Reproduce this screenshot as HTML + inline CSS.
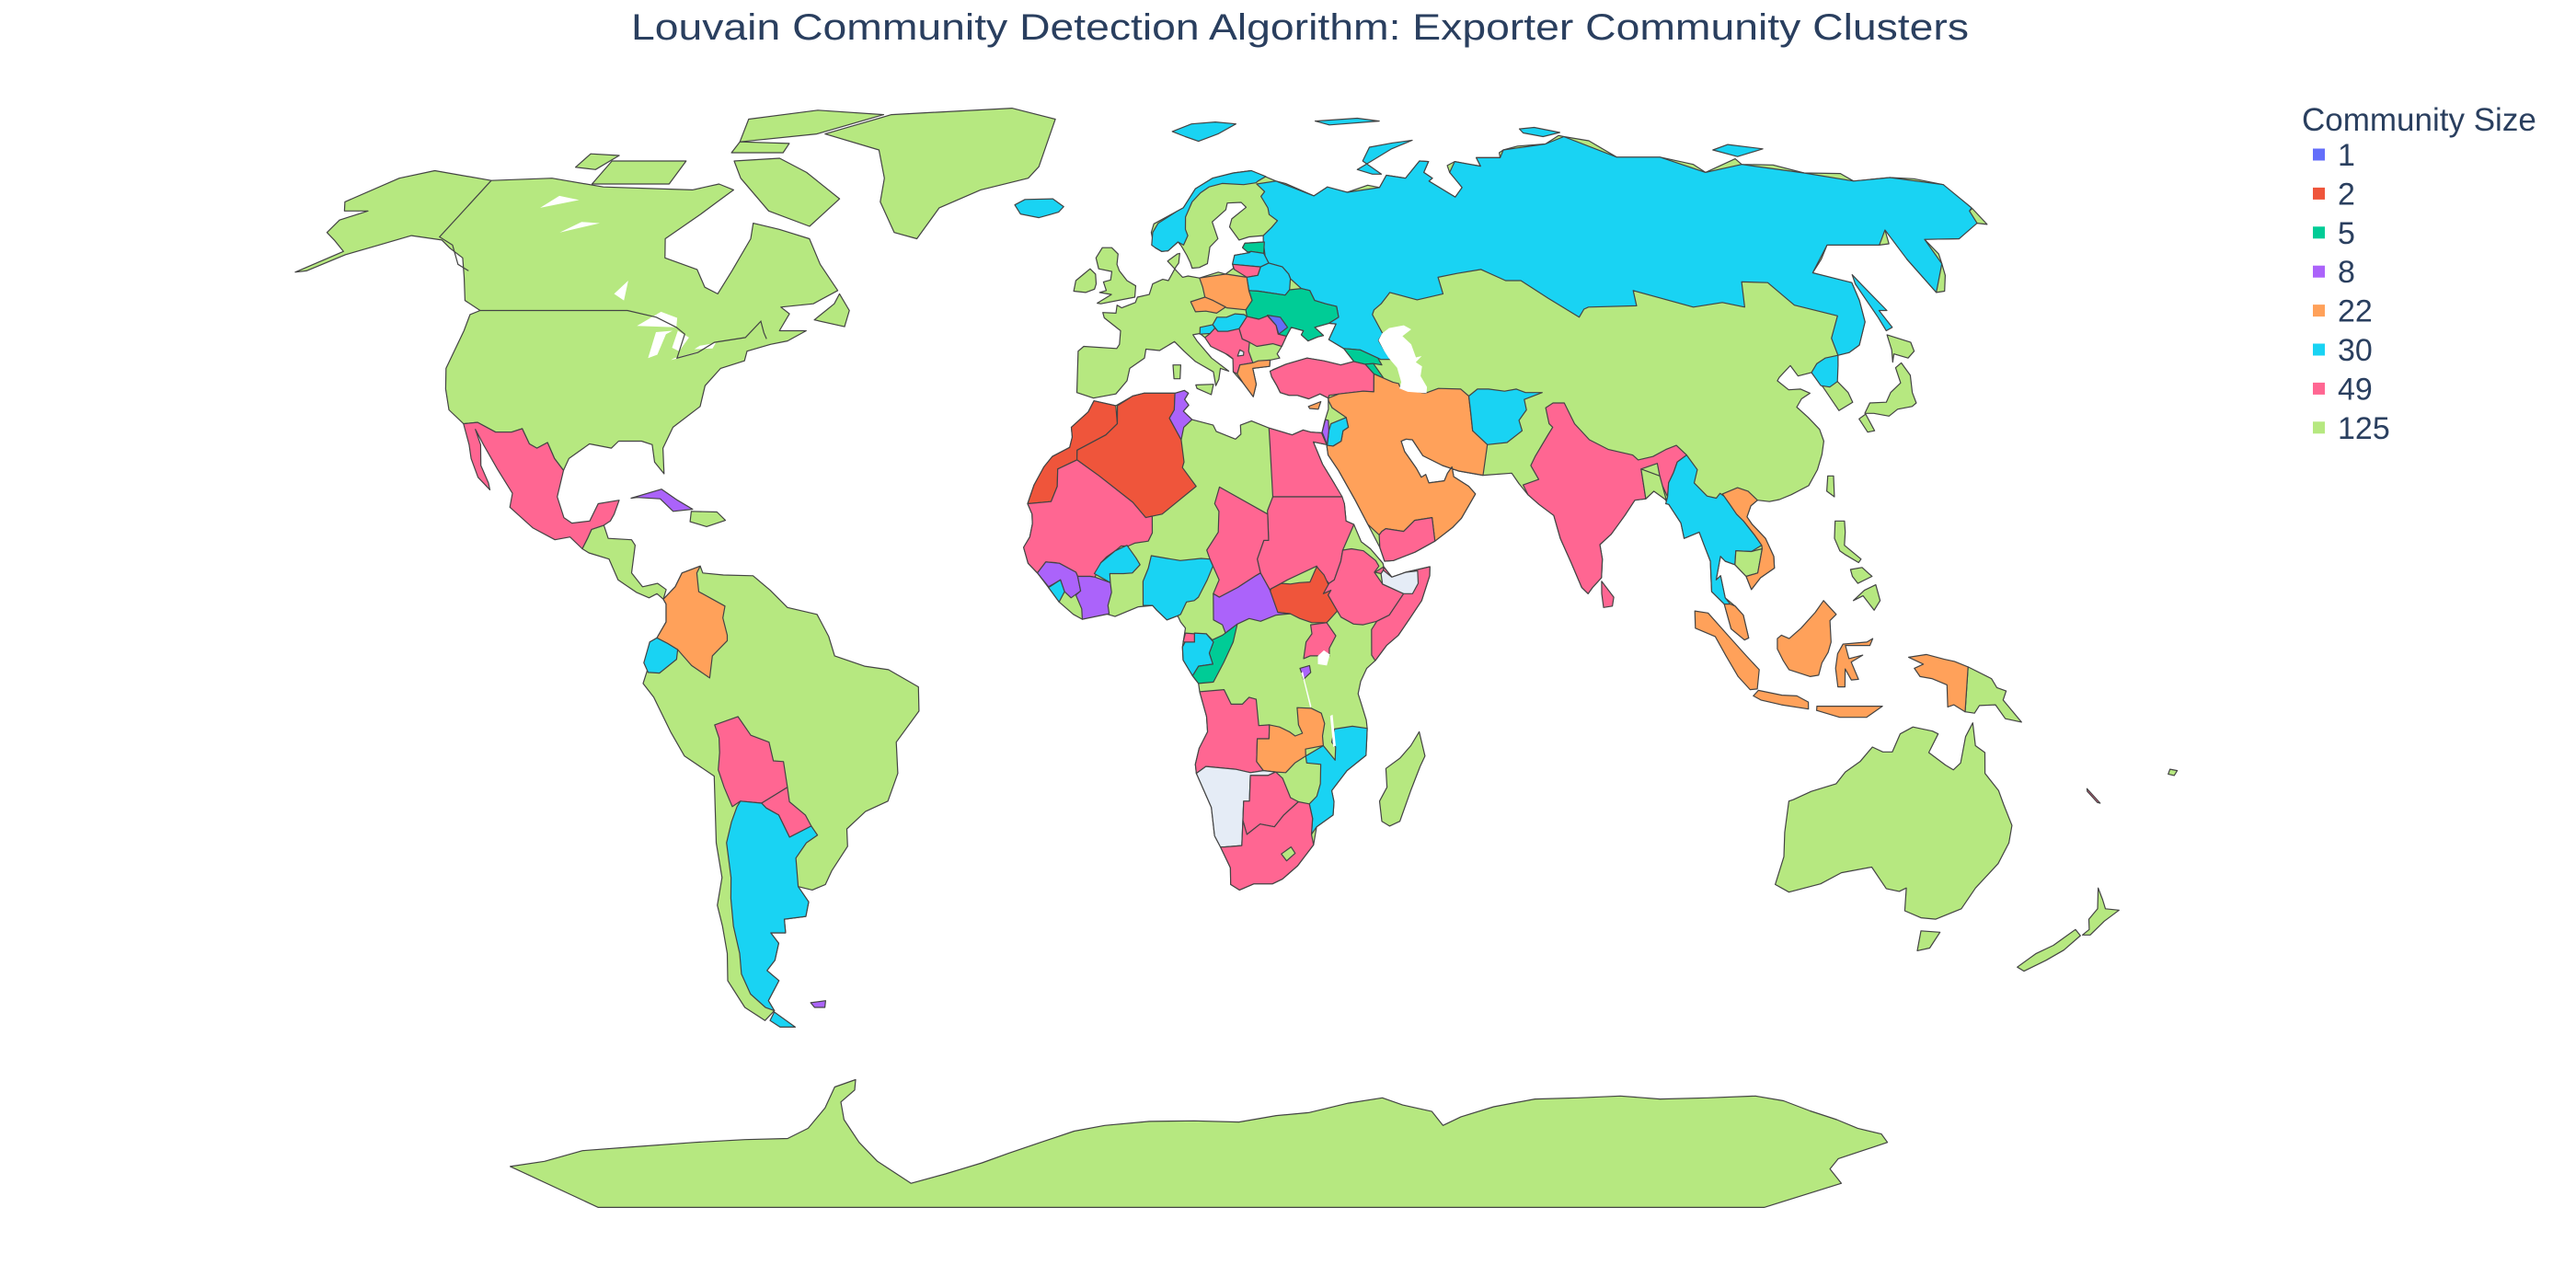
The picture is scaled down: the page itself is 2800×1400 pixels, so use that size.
<!DOCTYPE html>
<html>
<head>
<meta charset="utf-8">
<style>
  html,body{margin:0;padding:0;background:#fff;}
  svg{display:block;}
  text{font-family:"Liberation Sans", sans-serif;fill:#2a3f5f;}
</style>
</head>
<body>
<svg id="chart" width="2800" height="1400" viewBox="0 0 2800 1400" xmlns="http://www.w3.org/2000/svg">
  <rect x="0" y="0" width="2800" height="1400" fill="#ffffff"/>
  <text x="686" y="43" font-size="40" textLength="1454" lengthAdjust="spacingAndGlyphs">Louvain Community Detection Algorithm: Exporter Community Clusters</text>
  <g id="map"></g>
  <g id="legend">
    <text x="2502" y="142" font-size="35">Community Size</text>
  </g>
</svg>
<script>
// ---- data ----
const communitySizes = [1, 2, 5, 8, 22, 30, 49, 125];
const communityColors = ['#636efa', '#EF553B', '#00cc96', '#ab63fa', '#FFA15A', '#19d3f3', '#FF6692', '#B6E880'];
const noDataColor = '#E5ECF6';

// region names, community size (0 = no community) and outline [lon,lat]
const regionNames = [];
const regionCommunity = [];
const regionShapes = [];
function R(name, comm, pts){ regionNames.push(name); regionCommunity.push(comm); regionShapes.push(pts); }

// base land masses (community 125)
R('north-america',125,[[-168,66],[-162,70],[-156,71.3],[-141,69.6],[-128,70],[-115,68.5],[-95,68],[-90,69],[-86,68],[-88,66],[-90,64],[-94.5,60],[-92.5,57],[-85,55.2],[-82,52.5],[-79,51.5],[-78,55],[-77,60],[-78,62.5],[-72,61.5],[-65,60],[-61,56],[-56,52],[-60,50],[-66,49.5],[-64,48.5],[-65,46],[-60,46],[-63,44.5],[-66,44],[-70,43],[-70,41.6],[-74,40.5],[-76,38],[-76,35],[-80,32],[-81,29],[-80,25.3],[-82,27],[-83,29.5],[-85,30],[-89,30],[-90,29],[-94,29.6],[-97,27.5],[-97.5,25.8],[-99.5,27.5],[-101.4,29.8],[-103,29],[-104.5,29.6],[-106.5,31.8],[-108.2,31.3],[-111,31.3],[-114.7,32.7],[-117.1,32.5],[-120.5,34.5],[-122.5,37.5],[-124,40.5],[-124,46],[-124.5,48.4],[-123,49],[-127,50.5],[-130,54],[-133,57],[-137,58.5],[-140,59.8],[-147,60.5],[-152,59],[-157,57.5],[-162,55],[-164,54.8],[-158,58],[-162,59.8],[-165,61],[-165,63],[-161,64.5],[-166,64.5]]);
R('baffin-island',125,[[-80,73.5],[-72,71],[-62,66.5],[-66,62],[-76,64.5],[-86,70],[-90,73]]);
R('victoria-island',125,[[-118,69],[-101,69],[-101,73],[-118,73]]);
R('banks-island',125,[[-125,71.9],[-120,71.5],[-117.5,74],[-124.5,74.3]]);
R('ellesmere-island',125,[[-92,76.5],[-75,78],[-62,82],[-80,83],[-95,81]]);
R('devon-island',125,[[-92,74.5],[-80,74.5],[-80,76.2],[-92,76.5]]);
R('newfoundland',125,[[-59,47.6],[-53,46.6],[-52.8,49],[-55.5,51.5],[-56,50]]);
R('greenland',125,[[-73,78],[-60,82],[-30,83.5],[-18,81],[-20,72],[-22,70],[-32,68],[-40,65],[-43,60],[-48,61],[-53,66],[-54,70],[-58,75]]);
R('central-america',125,[[-92.2,14.5],[-91.5,16],[-91,17.3],[-89,17.9],[-88,16],[-84,15.8],[-83.3,15],[-83.5,11],[-81.5,9],[-79,9.5],[-77.5,8.6],[-77.9,7.2],[-79,8],[-80.3,7.4],[-82.5,8.2],[-85.7,10],[-87.5,13],[-91,13.9]]);
R('hispaniola',125,[[-74.4,19.9],[-70,19.8],[-68.4,18.6],[-71.5,17.7],[-74.4,18.4]]);
R('south-america',125,[[-77.9,7.2],[-76,9],[-75,11],[-72,12],[-71.5,11],[-68,10.7],[-63,10.6],[-60,8.5],[-57,6],[-52,5],[-50,1.8],[-49,-1],[-44,-2.5],[-40,-3],[-35,-5.5],[-35,-9],[-39,-13.5],[-39,-18],[-41,-22],[-45,-23.5],[-48.5,-26],[-48.7,-28.5],[-52,-32],[-53.5,-34],[-56,-34.8],[-58.4,-34.3],[-57,-36.5],[-58,-38.6],[-62,-39],[-62.3,-41],[-65,-41],[-64,-42.5],[-65.5,-45],[-67.5,-46.5],[-65.8,-48],[-69,-51],[-68.5,-52.5],[-71,-54],[-74,-52],[-75.5,-48],[-74,-44],[-73.5,-40],[-73.5,-37],[-71.6,-33],[-71.5,-28],[-70.3,-18.4],[-75,-15.5],[-77,-12],[-79.5,-7],[-81.2,-5],[-80,-2],[-80,1],[-78.8,1.6],[-77.3,3.9],[-77.4,6.5]]);
R('eurasia',125,[[-9,43],[-9,37],[-6,36.2],[-2,36.8],[0,38.7],[0.5,40.5],[3.2,42],[3.5,43.3],[6,43.1],[8.8,44.4],[10.5,43],[12.5,41.5],[15.7,40],[16,38],[16.6,38.9],[17,40.5],[18.5,40.1],[15.5,42],[13,44.5],[12.3,45.4],[13.6,45.6],[14.5,45],[17.5,43],[19.5,41.8],[19.3,40],[21,38.3],[22.6,36.4],[23.3,38.2],[22.9,40.5],[26,40.8],[26.2,41.7],[28,42],[27.6,42.6],[28.6,43.7],[29.7,45.2],[30.8,46.5],[33,46],[32.5,45.4],[33.6,44.5],[35.5,45.1],[36.6,45.3],[35.2,46.5],[38,47.1],[39.3,47],[37.5,44.7],[40,43.4],[41.5,41.5],[39,41],[36,41.6],[33,42],[29,41.1],[26.5,40.3],[26.2,39.3],[27,38],[27.5,37],[29,36.6],[30.5,36.6],[32.5,36.1],[34.6,36.8],[36,36.2],[35.8,34.6],[34.9,32.8],[34.3,31.3],[34.9,29.5],[35,28],[36.6,25.8],[39.1,21.5],[41,18],[42.8,14.7],[43.5,12.7],[45,12.8],[48.7,14],[52.2,15.6],[55.4,17.6],[57,18.9],[59.8,22.4],[58.8,23.5],[56.4,24.9],[56.3,26.3],[55.4,25.4],[54.7,24.3],[52,24],[51.6,25.2],[50.8,24.8],[50.1,26.1],[48.4,28.5],[48,30],[48.9,30.3],[50,30.2],[51.5,27.9],[54.7,26.5],[57.4,25.7],[61.5,25.1],[66.5,25.4],[67.5,23.9],[68.8,22.3],[70.5,20.9],[72.8,19.3],[73.5,16],[74.9,12.7],[76.5,8.9],[77.5,8],[78.3,8.9],[79.9,10.3],[80.3,13],[80.1,15.1],[82.2,16.6],[84.9,19.3],[87,21.5],[88.9,21.7],[90.5,22.8],[91.8,22.2],[92.7,20.9],[94.3,18.2],[94.5,16],[97.2,16.9],[97.7,15.2],[98.5,12.7],[98.3,8.3],[100.3,6.5],[101.3,2.9],[103.5,1.3],[104.2,1.6],[103.4,4.9],[102.1,6.2],[100.5,7.4],[100,10.6],[99.2,10],[100.3,13.4],[101,12.7],[102.6,12.2],[104.3,10.5],[105,8.6],[106.7,10.3],[109.2,11.7],[109.3,13.4],[108.3,16],[106.4,18],[105.7,19.1],[106.7,20.7],[108,21.5],[110,21.3],[111.8,21.6],[114,22.3],[117.3,23.6],[119.5,25.9],[121,28.1],[122,30],[121.9,31.7],[120.6,33.4],[119.2,34.9],[120.6,36.1],[122.5,36.9],[121.1,37.5],[118.9,37.4],[117.5,38.7],[118.1,39.2],[121,40.9],[121.6,39.4],[124.3,39.9],[125.3,37.7],[126.5,34.4],[129.5,35.6],[129.4,37],[128.3,38.6],[127.4,39.8],[129.7,40.9],[130.6,42.4],[132.9,42.8],[135.5,43.9],[139,47.3],[140.5,50.5],[141.4,53.2],[137.2,54],[135.1,54.7],[138.8,56.8],[142.2,59],[145.5,59.3],[149,59.6],[152.8,59],[155,59.2],[156.8,61.4],[160.1,61.8],[159.3,59.9],[156.7,57.4],[155.9,56.8],[156.4,51.7],[158.2,51.9],[160.8,54.3],[162.1,56.1],[163.2,57.6],[163.1,59.9],[170.3,60],[174.6,61.8],[177.4,62.5],[179.2,62.3],[179.9,64.9],[178.7,64.5],[176.9,65.4],[178.7,66.1],[179.9,68.9],[175,69.9],[170,70.1],[161,69.5],[160,70.8],[152,70.9],[147,72.3],[140,72.4],[139.9,73.4],[130,71],[129,72.4],[123,73.7],[113,73.7],[110,76.7],[105,77.5],[104,77.7],[99,76.1],[92,75.7],[88,75],[86.6,74.5],[86,73.6],[80.5,73.6],[80.3,72.1],[78,72.4],[75,72.9],[72.8,72.2],[72.5,71],[73,69.9],[73.5,68.4],[71,66.8],[68.5,68.1],[66.9,69.5],[68,70],[66.7,71],[69,72.9],[67,73],[62,70],[58,70.5],[55.4,68.4],[53,68.8],[48,67.6],[44,66.8],[44,68.5],[40.5,67],[35,69.1],[33,69.5],[28,71.3],[23.9,70.9],[19,70],[15,68.2],[12,65],[10.5,64.4],[5.6,62.4],[5,61],[5.3,59.7],[5.7,58.6],[7,58],[8.3,58.1],[10.4,59.5],[11,58.9],[12,57.4],[12.6,56.3],[12.9,55.4],[14.3,55.5],[16,56.1],[16.5,57.7],[16.8,58.7],[18.6,60],[17.8,62.7],[21,64.7],[21.5,65.8],[24.5,65.9],[25.4,65.1],[22,63.2],[21.3,61.9],[22.9,59.8],[25,60.3],[28,60.5],[29.1,60],[28,59.5],[24,59.3],[23.4,58.6],[24.6,57.8],[21.6,57.4],[21,56],[21.1,55.4],[19.4,54.5],[18,54.8],[14.2,53.9],[12,54.2],[10.9,54],[9.9,54.9],[8.1,56.5],[10.1,57.6],[10.6,57.7],[10.3,56.2],[9.6,55.5],[8.1,53.5],[7,53.7],[5,53],[4.3,51.4],[2,51],[1.6,50.2],[-1,49.4],[-1.9,49.8],[-2.1,48.6],[-4.6,48.7],[-4.3,47.9],[-1.2,46],[-1.4,44],[-1.9,43.4],[-8,43.7]]);
R('great-britain',125,[[-5,50],[1.5,51],[1.7,52.7],[0,53.5],[-1.5,55],[-2,56],[-1.8,57.6],[-3.1,58.6],[-5,58.6],[-6.2,57],[-5.6,55.3],[-3,54.9],[-3.2,53.6],[-4.6,53.3],[-4,52],[-5.3,51.7],[-3,51.4],[-5.7,50.1]]);
R('ireland',125,[[-6,53],[-6.2,54.5],[-7.3,55.3],[-8.5,54.5],[-10,53.5],[-10.3,51.9],[-8,51.7],[-6.3,52.2]]);
R('sardinia',125,[[8.4,41],[9.8,41],[9.6,39],[8.5,39]]);
R('sicily',125,[[12.4,38.1],[15.6,38.2],[15.1,36.7],[12.6,37.6]]);
R('africa',125,[[-5.9,35.8],[-2,35.1],[1,36.5],[3,36.9],[8.6,36.9],[10.3,37.3],[11,36.9],[10.3,36],[11,35.2],[10,34.3],[11.5,33.1],[15.2,32.3],[15.7,31.4],[19,30.3],[20,31],[20,32.3],[22,32.9],[25,31.9],[29,30.9],[31,31.6],[32.3,31.3],[34.2,31.2],[34.9,29.5],[32.6,29.9],[33.9,26.7],[35.7,23.9],[37.2,21],[37.3,18.5],[38.6,18],[39.7,15.5],[41.2,14.5],[43.2,12.4],[43.3,11.9],[44.6,10.4],[47,11.1],[51.1,11.9],[51,10.6],[49.5,7],[47.5,4.5],[45.5,2],[43.5,0.5],[41.6,-1.7],[40.2,-2.8],[39.2,-4.7],[38.8,-6.5],[39.4,-8],[40.3,-10.3],[40.5,-11.5],[40.5,-15.4],[37.4,-17.6],[35,-20.5],[35.5,-22.1],[35.5,-24],[32.8,-25.7],[32.5,-28.3],[30,-31.3],[27.5,-33.2],[25.8,-33.9],[22.5,-33.9],[20,-34.8],[18.4,-34],[18.2,-31.6],[16.3,-28.6],[15.2,-27],[14.5,-22.9],[11.8,-18],[11.6,-16.7],[12.2,-14.4],[13.6,-12],[13.4,-9.8],[12.2,-6.2],[12,-5],[11,-3.9],[9.4,-1.6],[9.3,0.3],[9.8,3],[9,3.9],[8.5,4.8],[6.7,4.2],[5,5.6],[4.3,6.3],[1.9,6.1],[-2,4.7],[-4,5.2],[-7.5,4.3],[-9,5],[-11.4,6.8],[-13.2,8.9],[-15.1,11],[-16.7,12.4],[-17.5,14.7],[-16.5,16.2],[-16.1,18.1],[-16.2,19.5],[-17,21],[-16,23.7],[-14.4,26.3],[-13,27.8],[-10,29.1],[-9.6,30.6],[-9.8,32],[-6.9,34.2]]);
R('madagascar',125,[[49.3,-12],[50.5,-15.5],[49.8,-17],[48.5,-20.5],[47.1,-24.9],[45.4,-25.6],[44,-24.9],[43.3,-22],[44.4,-20],[44,-17.3],[46.3,-15.8],[48,-14]]);
R('luzon',125,[[120.6,18.5],[122.2,18.5],[122,16.9],[121.5,15],[124,13],[123.5,12.5],[121.5,13.6],[120.6,14.2],[120,16]]);
R('visayas',125,[[122,11.5],[124,11.8],[125.5,10.5],[123,9.5],[122.2,10.5]]);
R('mindanao',125,[[122,7],[124,8.5],[126,9.3],[126.5,7],[125.4,5.6],[123.7,7.7]]);
R('taiwan',125,[[121,25],[122,25],[121.3,22],[120.2,22.8]]);
R('honshu',125,[[130.9,34],[132.5,35.5],[135.5,35.6],[137,37],[139.6,38.4],[140,40.6],[141.5,41.3],[142,39.5],[140.9,37],[140.8,35.5],[139.8,35],[137,34.6],[135,33.6],[132.5,34]]);
R('kyushu',125,[[129.5,33.2],[131,33.9],[131.5,31.5],[130.2,31.3]]);
R('hokkaido',125,[[140,41.4],[141,43.2],[141.7,45.4],[145.3,44.3],[145,43],[143.2,42],[141,42.6]]);
R('papua-new-guinea',125,[[141,-2.6],[145,-4.3],[146,-5.6],[147.6,-6.1],[147.2,-7.4],[150.7,-10.6],[147.9,-10.1],[146,-8.1],[143.3,-8.2],[142.6,-9.3],[141,-9.1]]);
R('australia',125,[[113.5,-22],[114,-26.5],[115,-30],[115,-34],[117.9,-35.1],[123,-33.9],[126,-32.3],[131,-31.5],[135,-34.6],[137.5,-35],[138.5,-34.5],[140,-37.8],[143.5,-38.8],[146.3,-39],[150,-37.5],[150.8,-34.5],[153,-31],[153.5,-28],[153,-25.5],[150.5,-22.5],[149,-20.5],[146,-18],[145.3,-15],[143.5,-14],[142.5,-10.7],[141.6,-12.7],[141.5,-16.5],[140.5,-17.5],[139,-16.8],[135.8,-15],[136.9,-12.3],[135.9,-11.9],[132.5,-11.3],[130.5,-12.3],[129.6,-14.9],[128,-14.9],[126.1,-14.2],[124.4,-16.3],[122.2,-17.8],[121,-19.5],[117,-20.6],[114.2,-21.8]]);
R('tasmania',125,[[144.7,-40.7],[148.3,-40.9],[148,-43.2],[146,-43.6]]);
R('nz-north',125,[[172.6,-34.5],[174.5,-36.2],[175.9,-37.5],[178.5,-37.7],[177,-39.3],[176,-41.3],[174.6,-41.3],[175.2,-40.5],[174,-39],[174.5,-37.5]]);
R('nz-south',125,[[172.7,-40.5],[174.3,-41.4],[173,-43.5],[171,-45],[168.3,-46.6],[166.5,-46],[168.3,-44],[170.5,-42.8]]);
R('fiji',125,[[177.3,-17.4],[178.6,-17.6],[178.3,-18.3],[177.2,-18.1]]);
R('antarctica',125,[[-161,-90],[-150,-78.5],[-140,-77.5],[-128,-75.5],[-115,-74.8],[-100,-74],[-88,-73.5],[-78,-73.3],[-72,-71.5],[-66,-68],[-62,-64.5],[-57,-63.3],[-58,-65],[-62,-67],[-63,-70],[-62,-74],[-60,-77.5],[-55,-82],[-45,-80],[-35,-77.8],[-28,-76],[-20,-74],[-12,-72],[-5,-71],[5,-70.3],[15,-70.2],[25,-70.4],[33,-69.3],[40,-68.8],[48,-67.2],[55,-66.3],[60,-67.5],[67,-68.6],[71,-71],[74,-69.5],[80,-67.8],[88,-66.5],[97,-66.3],[106,-66],[115,-66.5],[125,-66.3],[135,-66],[142,-66.8],[150,-68.5],[158,-70],[165,-71.5],[172,-72.5],[176,-74],[170,-77],[172,-79],[182,-82],[194,-90]]);

// coloured community overlays
R('mexico',49,[[-117.1,32.5],[-114.7,32.7],[-111,31.3],[-108.2,31.3],[-106.5,31.8],[-104.5,29.6],[-103,29],[-101.4,29.8],[-99.5,27.5],[-97.5,25.8],[-97.7,22],[-96,19],[-94.5,18.2],[-91.5,18.5],[-90.5,21],[-87,21.5],[-87.5,19.5],[-88,18.5],[-89,17.9],[-91,17.3],[-91.5,16],[-92.2,14.5],[-94.5,16.2],[-97,15.8],[-101,17.5],[-105.5,20.5],[-105.5,22.5],[-109,26],[-112.5,29.5],[-114.7,31.7],[-113,29.5],[-112,26.5],[-110,24],[-109.5,23],[-112,24.8],[-114,27.5],[-115,29.5]]);
R('cuba',8,[[-85,21.8],[-80,23.1],[-77,21.5],[-74.2,20.2],[-77.5,19.9],[-80,21.7],[-84,21.9]]);
R('colombia',22,[[-77.9,7.2],[-76,9],[-75,11],[-72,12],[-72.5,11],[-72,8.3],[-67.5,6.2],[-67.8,4.5],[-67,2],[-67,1.2],[-69.5,-1],[-70,-4.2],[-73,-2.4],[-75.3,-0.1],[-77,0.8],[-78.8,1.6],[-77.3,3.9],[-77.4,6.5]]);
R('ecuador',30,[[-78.8,1.6],[-77,0.8],[-75.3,-0.1],[-75.5,-1.5],[-78.4,-3.5],[-80.3,-3.4],[-81,-2],[-80,1]]);
R('bolivia',49,[[-69.5,-11],[-65.5,-9.8],[-63.5,-12.5],[-60.5,-13.5],[-60,-16.2],[-58.3,-16.3],[-58,-20],[-62.7,-22.3],[-66.3,-22],[-67.8,-22.8],[-68.8,-20],[-69.5,-17.5],[-69,-15],[-68.9,-12.9]]);
R('paraguay',49,[[-62.7,-22.3],[-58,-20],[-57.9,-22.1],[-55.4,-24],[-54.6,-25.6],[-58.6,-27.2],[-60,-24],[-62,-23]]);
R('argentina',30,[[-66.3,-22],[-62.7,-22.3],[-62,-23],[-60,-24],[-58.6,-27.2],[-54.6,-25.6],[-53.7,-26.9],[-55.8,-28],[-58,-30.2],[-58.4,-34.3],[-57,-36.5],[-58,-38.6],[-62,-39],[-62.3,-41],[-65,-41],[-64,-42.5],[-65.5,-45],[-67.5,-46.5],[-65.8,-48],[-69,-51],[-68.5,-52.5],[-70,-52],[-72,-50],[-72.5,-47],[-71.7,-44],[-71.5,-40],[-70.8,-36],[-70,-33],[-69.7,-28],[-68.3,-25],[-67,-22.8]]);
R('tierra-del-fuego',30,[[-68.6,-52.7],[-65.5,-55],[-68.5,-55],[-70,-54]]);
R('falklands',8,[[-61,-51.3],[-58,-51],[-58.5,-52],[-60.5,-52]]);
R('iceland',30,[[-22.5,64],[-24,65.5],[-22,66.4],[-16,66.5],[-13.5,65.2],[-14.5,64.3],[-18.5,63.4]]);
R('svalbard',30,[[11,78.5],[16,80],[22,80.4],[27,80],[22,78],[17,76.6],[14,77.5]]);
R('norway',30,[[5,59],[5.3,61],[6.5,62.5],[10.5,64.4],[12,65],[15,68.2],[19,70],[23.9,70.9],[28,71.3],[31,70.3],[29,69.5],[28.5,69.2],[25.7,68.9],[21,69.1],[18,68.5],[16,67.5],[14,66],[12.3,63.5],[12.1,61.5],[12.5,60.5],[11.5,59],[10.4,59.5],[8.3,58.1],[7,58],[5.7,58.6]]);
R('russia',30,[[28.6,69],[33,69.5],[40.5,67],[44,68.5],[48,67.6],[55.4,68.4],[58,70.5],[62,70],[67,73],[69,72.9],[66.7,71],[68,70],[66.9,69.5],[71,66.8],[73.5,68.4],[72.5,71],[75,72.9],[80.3,72.1],[80.5,73.6],[86,73.6],[88,75],[99,76.1],[105,77.5],[113,73.7],[123,73.7],[130,71],[140,72.4],[152,70.9],[161,69.5],[170,70.1],[179.9,68.9],[179.9,65],[178.7,64.5],[177.4,62.5],[170.3,60],[163.1,59.9],[162.1,56.1],[156.4,51.7],[155.9,56.8],[156.8,61.4],[152.8,59],[142.2,59],[135.1,54.7],[141.4,53.2],[140.5,50.5],[139,47.3],[135.5,43.9],[132.9,42.8],[130.6,42.4],[131,44.9],[134.5,48.2],[127.5,49.8],[125,53.2],[120,53.3],[117.8,49.5],[114,50.2],[108,49.5],[98,52],[97.3,49.7],[88,49.5],[87,49.2],[85.5,48],[81,50.8],[77,53.5],[74,53.5],[70,55.2],[65,54.6],[61,54],[61,51.5],[55.7,50.6],[50.8,51.7],[48.6,50],[47,49.1],[46.5,48.4],[47.7,45.6],[46.7,44.6],[47.5,43],[48.5,41.8],[46.5,41.8],[43,43.2],[40,43.4],[37.5,44.7],[39.3,47],[38,47.1],[40,48],[40,49.6],[38,50],[36,50.5],[35.4,52],[33.8,52.3],[32,53.8],[31.8,54.5],[30.8,55.6],[28.2,56.2],[27.7,57.3],[27.8,59.5],[28,60.5],[30,61.8],[31.5,62.9],[30,63.9],[30,65],[29,66.9],[30,67.7]]);
R('novaya-zemlya',30,[[52,71.5],[55,70.7],[57,70.7],[54,73],[57,75.5],[63,76.3],[68,76.8],[62,75.2],[55.5,72.8]]);
R('severnaya-zemlya',30,[[96,79],[100,79.3],[105,78.3],[100,77.5],[96,78.2]]);
R('new-siberian-islands',30,[[137,75],[142,76],[149,75.2],[141,73.8]]);
R('franz-josef-land',30,[[47,80.6],[58,81.2],[63,80.6],[50,79.8]]);
R('sakhalin',30,[[142,46],[143.5,46.5],[143,49],[144.5,49],[143,53],[142.6,54.4],[141.9,53],[142,48]]);
R('estonia',5,[[23.4,58.6],[24,59.3],[28,59.5],[27.5,57.7],[25,58],[24.3,57.9]]);
R('latvia',30,[[21,56.1],[21.6,57.4],[24.6,57.8],[25,58],[27.5,57.7],[28.2,56.2],[26.5,55.6],[21,56]]);
R('lithuania',49,[[21,56],[26.5,55.6],[25.7,54.3],[23.5,54],[21.2,55.2]]);
R('belarus',30,[[23.5,54],[25.7,54.3],[26.5,55.6],[28.2,56.2],[30.8,55.6],[31.8,54.5],[32,53.8],[31.5,52.1],[30.5,51.3],[25.5,51.9],[23.6,52],[23.5,53.5]]);
R('poland',22,[[14.2,53.9],[19.4,54.5],[23.5,54],[23.6,52],[24,50.5],[22.7,49.1],[19,49.4],[18.8,49.5],[16.5,50.5],[15,51],[14.7,52.5]]);
R('czechia',22,[[12.2,50.3],[15,51],[16.5,50.5],[18.8,49.5],[17,48.6],[15,48.9],[13,48.8]]);
R('ukraine',5,[[23.6,52],[25.5,51.9],[30.5,51.3],[31.5,52.1],[33.8,52.3],[35.4,52],[36,50.5],[38,50],[40,49.6],[40,48],[38,47.1],[35.2,46.5],[36.6,45.3],[35.5,45.1],[33.6,44.5],[32.5,45.4],[33,46],[30.8,46.5],[29.7,45.2],[28.2,45.5],[28.2,47.9],[26.6,48.2],[24.9,47.7],[22.7,48.1],[22.6,49.1],[24,50.5]]);
R('moldova',1,[[26.6,48.3],[29,48],[30.1,46.5],[28.3,45.5],[28,46.8]]);
R('hungary',30,[[16.1,46.9],[17,48],[18.8,48],[20.5,48.5],[22.2,48.4],[22.7,48.1],[21,46.3],[18.8,45.9],[17,45.9]]);
R('slovenia',30,[[13.6,45.5],[13.7,46.5],[16.1,46.9],[16.5,46.4],[15.5,45.6]]);
R('romania',49,[[22.7,48.1],[24.9,47.7],[26.6,48.2],[28,46.8],[28.2,45.5],[29.7,45.2],[28.6,43.7],[27,44.1],[24,43.7],[22.7,44.3],[21.4,44.8],[21,46.3]]);
R('western-balkans',49,[[15.5,45.6],[16.5,46.4],[17,45.9],[18.8,45.9],[21,46.3],[21.4,44.8],[22.7,44.3],[22.4,43],[23,41.3],[20.6,41],[20,39.7],[19.3,40],[19.4,41.9],[18.5,42.5],[15.5,43.7],[14.5,45]]);
R('kosovo',0,[[20.3,42.3],[21.4,42.4],[21.5,42.9],[20.8,43.2]]);
R('greece',22,[[20,39.7],[21,38.3],[22.6,36.4],[23.3,38.2],[22.9,40.5],[26,40.8],[26.2,41.7],[24,41.6],[23,41.3],[20.6,41]]);
R('cyprus',22,[[32.3,35],[34.6,35.7],[34,34.6],[32.5,34.7]]);
R('turkey',49,[[26,40.1],[29,41.1],[33,42],[36,41.6],[39,41],[41.5,41.5],[43.5,41.1],[44.8,39.7],[44.3,37.1],[42.4,37.2],[38,36.8],[36.2,36.6],[36,36.2],[34.6,36.8],[32.5,36.1],[30.5,36.6],[29,36.6],[27.5,37],[27,38],[26.2,39.3]]);
R('georgia',5,[[40,43.4],[43,43.2],[46,42],[46.5,41],[45,41.2],[43.5,41.1],[41.5,41.5]]);
R('armenia',5,[[43.5,41.1],[45,41.2],[46.5,39],[44.8,39.7]]);
R('middle-east-block',22,[[36,36.2],[38,36.8],[42.4,37.2],[44.3,37.1],[44.8,39.7],[48,38.5],[49,38.3],[49.2,37.6],[53.5,36.9],[56,37.6],[60,37.5],[61.2,36.5],[61,34],[60.8,31.5],[61.7,31.4],[63,29.5],[61.5,25.1],[57.4,25.7],[54.7,26.5],[51.5,27.9],[50,30.2],[48.9,30.3],[48,30],[48.4,28.5],[50.1,26.1],[50.8,24.8],[51.6,25.2],[52,24],[54.7,24.3],[55.4,25.4],[56.3,26.3],[56.4,24.9],[58.8,23.5],[59.8,22.4],[57,18.9],[55.4,17.6],[52.2,15.6],[52,19],[49,18.6],[47,17],[44,17.4],[43.3,17],[42.8,16.5],[41,18],[39.1,21.5],[36.6,25.8],[35,28],[34.9,29.5],[36,29.3],[37.5,30],[38,31.5],[39,32],[38.8,33.4],[36.5,34.8],[36,35.8]]);
R('jordan',30,[[35,29.4],[36,29.3],[37.5,30],[38,31.5],[39,32],[38.8,33.4],[36,32.5],[35.5,31.5]]);
R('israel',8,[[34.3,31.3],[35.1,33.1],[35.6,33],[35.5,31.5],[35,29.5]]);
R('yemen',49,[[42.8,16.5],[43.3,17],[44,17.4],[47,17],[49,18.6],[52,19],[52.2,15.6],[48.7,14],[45,12.8],[43.5,12.7],[42.8,14.7]]);
R('afghanistan',30,[[61,34],[61.2,36.5],[63,37.5],[65,37.5],[67.8,37.2],[70,37.5],[71.5,37],[74.5,37],[71,36],[71,34.5],[69.3,33],[69.5,31.5],[66.5,29.8],[63,29.5],[60.8,31.5]]);
R('india',49,[[68.8,22.3],[70.5,20.9],[72.8,19.3],[73.5,16],[74.9,12.7],[76.5,8.9],[77.5,8],[78.3,8.9],[79.9,10.3],[80.3,13],[80.1,15.1],[82.2,16.6],[84.9,19.3],[87,21.5],[88.9,21.7],[89,26],[92,26.8],[92,24],[92.7,22],[93.3,24],[94.5,25.5],[95.5,27],[97.4,28],[96,29.4],[94,28.8],[91.5,27.8],[88.8,27.3],[88,28],[84,28.8],[81,30.2],[79,32.5],[78,35.5],[76,35.5],[74.5,34.8],[74.5,32.5],[75,32],[74,31],[71,27.8],[70,26.5],[71,24.5],[68.2,23.7]]);
R('bangladesh',125,[[88.9,21.7],[89,26],[92,25],[92.4,21.5],[90.5,22.8]]);
R('sri-lanka',49,[[79.9,9.8],[81.8,7.5],[81.5,6.2],[80,6],[79.8,8]]);
R('mainland-sea-block',30,[[92.2,21],[92.7,22],[93.3,24],[94.5,25.5],[95.5,27],[97.4,28],[98.7,25.9],[97.7,24],[99.5,22.1],[101,21.8],[101.8,22.5],[104.3,20.8],[105,18.5],[106.5,16.5],[107.5,15],[105.6,14.1],[103,14.2],[102.6,12.2],[101,12.7],[100.3,13.4],[99.2,10],[100,10.6],[100.5,7.4],[101.3,6.5],[100.3,6.5],[98.3,8.3],[98.5,12.7],[97.7,15.2],[97.2,16.9],[94.5,16],[94.3,18.2],[92.7,20.9]]);
R('cambodia',125,[[102.6,12.2],[103,14.2],[105.6,14.1],[107.5,14.5],[106.3,11],[104.3,10.5]]);
R('vietnam',22,[[102.2,22.4],[105,23.3],[106.7,22.8],[108,21.5],[106.7,20.7],[105.7,19.1],[106.4,18],[108.3,16],[109.3,13.4],[109.2,11.7],[106.7,10.3],[105,8.6],[104.3,10.5],[106.3,11],[107.5,14.5],[107.5,15],[106.5,16.5],[105,18.5],[104,19.5],[103.2,20.8]]);
R('malaysia-peninsula',22,[[100.3,6.5],[101.3,6.5],[102.1,6.2],[103.4,4.9],[104.2,1.6],[103.5,1.3],[101.3,2.9]]);
R('borneo',22,[[109,1.5],[109.7,2],[111,1.5],[113,3],[115.5,5.3],[117,7],[119,5],[117.9,4.1],[118,1],[117.5,-0.5],[116.5,-2],[116,-3.8],[114.6,-4],[111,-3],[110,-1.7],[109,0]]);
R('sumatra',22,[[95.3,5.5],[97.5,5.2],[100.4,2.3],[103.8,-1],[106,-3],[105.8,-5.8],[104.6,-5.9],[102.5,-4],[100.4,-1],[98.6,1.8],[95.3,3]]);
R('java',22,[[105.2,-6.8],[106,-6],[110,-6.7],[112.5,-6.8],[114.5,-7.7],[114.6,-8.7],[110,-8.1],[106.5,-7.4]]);
R('sulawesi',22,[[119.3,-5.5],[120.5,-5.5],[120.4,-2.9],[121.5,-4.5],[122.7,-4.4],[121.4,-1.9],[123.3,-0.9],[121,-1.4],[120.4,0.5],[124.5,0.5],[125,1.5],[124,1],[120,0.7],[119.1,-0.7],[118.8,-2.8]]);
R('lesser-sunda',22,[[116,-8.3],[119,-8.3],[123,-8.3],[127,-8.3],[124.5,-9.9],[120,-9.9],[116,-8.9]]);
R('west-new-guinea',22,[[131,-1.2],[134,-0.8],[137,-1.5],[138.7,-1.8],[141,-2.6],[141,-9.1],[139,-8.1],[138,-8.4],[137.6,-5.2],[135,-4.3],[133,-4],[132,-2.8],[133.5,-2.2]]);
R('north-korea',30,[[124.3,39.9],[125,38],[126.5,37.8],[128.3,38.6],[129.7,40.9],[130.6,42.4],[128,42],[126,41.2]]);
R('new-caledonia',49,[[164,-20.2],[167,-22.3],[166.5,-22.2],[164.2,-20.6]]);
R('morocco',2,[[-5.9,35.8],[-2,35.1],[-1.7,32.5],[-3.7,30.9],[-8.7,28.7],[-8.7,27.3],[-12,26],[-12,23.5],[-13,21.3],[-17,21],[-16,23.7],[-14.4,26.3],[-13,27.8],[-10,29.1],[-9.6,30.6],[-9.8,32],[-6.9,34.2]]);
R('algeria',2,[[-1.7,35.1],[1,36.5],[3,36.9],[8.6,36.9],[8.4,34.5],[7.5,33.3],[9.5,30.2],[9.9,27],[9.6,26.2],[11.9,23.5],[6,19.5],[4.3,19.2],[3.2,19],[1,21.2],[-4.8,25],[-8.7,27.3],[-8.7,28.7],[-3.7,30.9],[-1.7,32.5]]);
R('tunisia',8,[[8.6,36.9],[10.3,37.3],[11,36.9],[10.3,36],[11,35.2],[10,34.3],[11.5,33.1],[10,32],[9.5,30.2],[7.5,33.3],[8.4,34.5]]);
R('egypt',49,[[25,31.9],[29,30.9],[31,31.6],[32.3,31.3],[34.2,31.2],[34.9,29.5],[32.6,29.9],[33.9,26.7],[35.7,23.9],[36.9,22],[25,22],[25,29.5]]);
R('sudan',49,[[24,20],[25,22],[36.9,22],[37.2,21],[37.3,18.5],[38.6,18],[36.5,14.3],[36.1,12.7],[34.9,10],[34,9.5],[33,10.5],[32,12],[27,10],[24,8.6],[22.5,11],[22,13],[23.2,15.7],[24,15.7]]);
R('south-sudan',2,[[24.2,8.7],[26,9.5],[27.5,9.4],[29,9.6],[30.8,9.7],[32,11.9],[33.2,10.7],[34.3,8.5],[33.8,7.8],[35.3,5.5],[33.5,3.8],[31,3.8],[29,4.4],[27.4,5.1],[25.3,5.3],[23.5,6.7]]);
R('chad',49,[[14,13],[15.5,10],[14.5,8],[15.5,7.5],[18.6,8.9],[21.7,10.6],[22.5,11],[22,13],[23.2,15.7],[24,15.7],[24,19.5],[15.9,23.4],[15,21],[15.7,19.9],[15.5,16.9],[13.5,14.3]]);
R('west-africa-block',49,[[-17,21],[-13,21.3],[-12,23.5],[-12,26],[-8.7,27.3],[-4.8,25],[1,21.2],[3.2,19],[4.3,19.2],[4.3,16.8],[3.6,15.6],[1.3,15.3],[0.2,14.9],[-1,14.9],[-2,14.2],[-3.5,13.3],[-4.4,12.5],[-5.4,10.4],[-6.2,10.5],[-8.3,10.5],[-8.6,11.1],[-11.4,12.4],[-12.2,12.5],[-13.7,12.6],[-15.1,11],[-16.7,12.4],[-17.5,14.7],[-16.5,16.2],[-16.1,18.1],[-16.2,19.5]]);
R('guinea',8,[[-15.1,11],[-13.7,12.6],[-11.4,12.4],[-8.6,11.1],[-8.3,10.5],[-7.8,8.4],[-9.4,7.4],[-10.5,8.3],[-11.2,10],[-13.2,9]]);
R('sierra-leone',30,[[-13.2,8.9],[-11.2,10],[-10.5,8.3],[-11.4,6.8]]);
R('ivory-coast',8,[[-8.3,10.5],[-6.2,10.5],[-5.4,10.4],[-2.8,9.6],[-2.6,8.2],[-3.2,6.3],[-3,5.1],[-7.5,4.3],[-7.6,5.8],[-8.6,7.8],[-7.8,8.4]]);
R('burkina-faso',30,[[-5.5,10.9],[-4.4,12.5],[-2,14.2],[0,15],[1.5,13.2],[2.2,12.2],[0.9,11],[-0.6,10.9],[-2.9,10.9],[-2.8,9.6]]);
R('nigeria',30,[[2.7,6.3],[2.7,9.8],[3.6,11.7],[4.1,13.5],[6.8,13.1],[9,12.8],[12.5,13.1],[14,13],[14.5,12],[13.5,10],[12,7.5],[11.3,7],[10,6.8],[9,5],[8.5,4.8],[6.7,4.2],[5,5.6],[4.3,6.3]]);
R('central-african-republic',8,[[14.5,8],[15.5,7.5],[18.6,8.9],[21.7,10.6],[22.5,11],[24,8.6],[25.3,5.3],[27.4,5.1],[25,4.9],[22.4,4],[20.5,4.4],[18.5,3.6],[16.5,2.3],[16,3.5],[14.5,4.2]]);
R('gabon',30,[[9.3,0.3],[9.8,1.1],[11.3,1],[11.3,2.3],[13.3,2.2],[14.5,1],[13.8,-0.6],[14.4,-2.2],[12,-2.5],[11,-3.9],[9.4,-1.6]]);
R('congo',5,[[11,-3.9],[12,-5],[14.5,-4.8],[16.2,-2],[17.8,1],[18.5,3.6],[16.5,2.3],[16,2],[14.3,1.3],[13.3,2.2],[14.5,1],[13.8,-0.6],[14.4,-2.2],[12,-2.5]]);
R('equatorial-guinea',49,[[9.4,1],[11.3,1],[11.3,2.2],[9.8,2.3]]);
R('uganda',49,[[29.6,-1.4],[30,1],[31,2.2],[30.8,3.5],[33.5,3.8],[35,1.9],[33.9,0.1],[33.9,-1],[30.7,-1]]);
R('ethiopia',49,[[33,8],[34,9.5],[34.9,10],[36.1,12.7],[36.5,14.3],[38,14.5],[40,14.2],[42,12.8],[42.5,12],[41.7,11.1],[43,9.4],[44,9],[46.5,8],[44,4.9],[41.9,4],[39.6,3.5],[38,3.6],[35.9,4.6],[35.3,5.5],[33.8,7.8],[34.3,8.5]]);
R('somalia',49,[[41.6,-1.7],[43.5,0.5],[45.5,2],[47.5,4.5],[49.5,7],[51,10.6],[51.1,11.9],[47,11.1],[44.6,10.4],[43.3,11.9],[43,9.4],[44,9],[46.5,8],[44,4.9],[41.9,4],[41,2.8],[41,-0.9]]);
R('somaliland',0,[[43.2,11.4],[44.6,10.4],[47,11.1],[49,11.3],[49,9.5],[48,8],[46.5,8],[44,9],[43,9.4],[42.8,10.9]]);
R('djibouti',49,[[41.8,11.1],[43.3,11.9],[43.2,11.4],[42.8,10.9]]);
R('burundi',8,[[29,-2.8],[30.6,-2.4],[30.8,-3.4],[29.6,-4.4],[29.2,-3.3]]);
R('angola',49,[[11.8,-18],[13.4,-17],[18.4,-17.4],[21,-17.9],[23.2,-17.6],[22,-16.3],[22,-13],[24,-13],[24,-11],[22.2,-11.1],[21.7,-7.3],[20.5,-7],[19.4,-8],[17.5,-8],[16.3,-5.9],[12.2,-6.2],[13.4,-9.8],[13.6,-12],[12.2,-14.4],[11.6,-16.7]]);
R('zambia',22,[[22,-13],[22,-16.3],[23.2,-17.6],[25.3,-17.8],[27,-17.9],[28.5,-16.5],[30.3,-15.5],[30.2,-14.5],[33.2,-14],[33,-12.6],[33.3,-10.8],[32.7,-9.3],[31,-8.6],[28.6,-8.5],[28.9,-11],[29.6,-12.2],[28.4,-12.6],[27.4,-12],[25.7,-11.3],[24,-11],[24,-13]]);
R('mozambique',30,[[30.3,-15.5],[33.2,-14],[35.3,-16.1],[35.3,-14.2],[34.6,-13.5],[35,-11.6],[38,-11.2],[40.5,-11.5],[40.5,-15.4],[37.4,-17.6],[35,-20.5],[35.5,-22.1],[35.5,-24],[32.8,-25.7],[32,-26.8],[32,-24.5],[31.3,-22.4],[32.5,-21.3],[33,-19.5],[32.9,-16.7],[30.5,-16.5]]);
R('namibia',0,[[11.8,-18],[13.4,-17],[18.4,-17.4],[21,-17.9],[23.2,-17.6],[25.3,-17.8],[24,-18.3],[21,-18.3],[21,-22],[20,-22],[20,-28.4],[17,-28.6],[16.3,-28.6],[15.2,-27],[14.5,-22.9]]);
R('botswana',49,[[20,-22],[21,-22],[21,-18.3],[24,-18.3],[25.3,-17.8],[26.5,-18.7],[28,-21.5],[29.4,-22.1],[27,-24],[25.5,-25.7],[23,-25.3],[20.8,-26.8],[20,-24.8]]);
R('south-africa',49,[[16.3,-28.6],[17,-28.6],[20,-28.4],[20,-24.8],[20.8,-26.8],[23,-25.3],[25.5,-25.7],[27,-24],[29.4,-22.1],[31.3,-22.4],[32,-24.5],[32,-26.8],[32.5,-28.3],[30,-31.3],[27.5,-33.2],[25.8,-33.9],[22.5,-33.9],[20,-34.8],[18.4,-34],[18.2,-31.6]]);
R('lesotho',125,[[27,-29.6],[28.6,-28.6],[29.4,-29.5],[28,-30.6]]);

// lakes / inland water (white)
const lakeShapes = [
  [[-92,46.7],[-84.5,46.5],[-85,47.9],[-88.5,48.8]],
  [[-87.8,42],[-86.3,42.5],[-86,45.5],[-85,46],[-88,45.8]],
  [[-84,43.5],[-82.5,43],[-81.5,45],[-84,46]],
  [[-83.5,41.7],[-79,42.7],[-79,42.9],[-83,42]],
  [[-79.8,43.3],[-76.5,43.4],[-76.2,44.2],[-79,43.8]],
  [[-125,65],[-118,66.3],[-123,67]],
  [[-117,61],[-110,62.5],[-114,62.7]],
  [[-99,51.5],[-96.5,50.5],[-97.5,53.5]],
  [[46.7,44.6],[47.4,43],[48,42],[49.2,40.6],[49.5,38.5],[49,37.6],[50.4,37.1],[53.7,36.9],[54,37.8],[53.2,39.4],[53.8,40.8],[52.8,41.4],[54.1,42.3],[53,42.1],[52.6,44],[51.3,45.2],[53.2,46.2],[52,46.8],[49.1,46.4],[47.6,45.6]],
  [[32,-1],[33,-0.2],[34,-0.8],[33.5,-2.4],[32,-2.2]],
  [[29.2,-3.5],[29.6,-4.5],[30.8,-8.5],[31,-8.3],[29.8,-4.5],[29.5,-3.3]],
  [[34.2,-9.7],[34.6,-9.5],[35.3,-14],[34.9,-14.2]]
];
// border polylines inside same-colour areas
const borderLines = [
  [[-123,49],[-95,49],[-89,48],[-84.5,46.5],[-82.5,45.5],[-82.5,42],[-79,42.8],[-76.5,44.3],[-71,45],[-69,47.4],[-67.8,45.7],[-67,44.8]],
  [[-141,69.6],[-141,60.3],[-137,59],[-133,56],[-130,55]]
];

// ---- projection (Natural Earth) ----
const K = 2800/1568;
function proj(lon, lat){
  const p = lat*Math.PI/180, l = lon*Math.PI/180;
  const p2=p*p, p4=p2*p2, p6=p4*p2, p8=p4*p4, p10=p8*p2, p12=p10*p2;
  const xf = 0.8707 - 0.131979*p2 - 0.013791*p4 + 0.003971*p10 - 0.001529*p12;
  const yf = p*(1.007226 + 0.015085*p2 - 0.044475*p6 + 0.028874*p8 - 0.005916*p10);
  const S = 239;
  return [(686 + S*l*xf)*K, (395 - S*yf)*K];
}
function pathFor(pts, close){
  return pts.map((q,i)=>{const c=proj(q[0],q[1]);return (i?'L':'M')+c[0].toFixed(1)+','+c[1].toFixed(1);}).join('') + (close?'Z':'');
}
function colorFor(size){
  const i = communitySizes.indexOf(size);
  return i<0 ? noDataColor : communityColors[i];
}

const NS='http://www.w3.org/2000/svg';
const map = document.getElementById('map');
regionShapes.forEach((pts, i)=>{
  const el = document.createElementNS(NS,'path');
  el.setAttribute('d', pathFor(pts,true));
  el.setAttribute('fill', colorFor(regionCommunity[i]));
  el.setAttribute('stroke', '#444');
  el.setAttribute('stroke-width', '1.2');
  el.setAttribute('stroke-linejoin', 'round');
  
  
  map.appendChild(el);
});
lakeShapes.forEach((pts)=>{
  const el = document.createElementNS(NS,'path');
  el.setAttribute('d', pathFor(pts,true));
  el.setAttribute('fill', '#ffffff');
  el.setAttribute('stroke', 'none');
  
  
  map.appendChild(el);
});
borderLines.forEach((pts)=>{
  const el = document.createElementNS(NS,'path');
  el.setAttribute('d', pathFor(pts,false));
  el.setAttribute('fill', 'none');
  el.setAttribute('stroke', '#444');
  el.setAttribute('stroke-width', '1.2');
  
  
  map.appendChild(el);
});

// ---- legend ----
const legend = document.getElementById('legend');
communitySizes.forEach((s, i)=>{
  const cy = 168 + i*42.4;
  const sw = document.createElementNS(NS,'rect');
  sw.setAttribute('x', 2514); sw.setAttribute('y', cy-6.5);
  sw.setAttribute('width', 13); sw.setAttribute('height', 13);
  sw.setAttribute('fill', communityColors[i]);
  
  
  legend.appendChild(sw);
  const t = document.createElementNS(NS,'text');
  t.setAttribute('x', 2541); t.setAttribute('y', cy+12);
  t.setAttribute('font-size', 34);
  t.textContent = String(s);
  
  
  legend.appendChild(t);
});
</script>
</body>
</html>
